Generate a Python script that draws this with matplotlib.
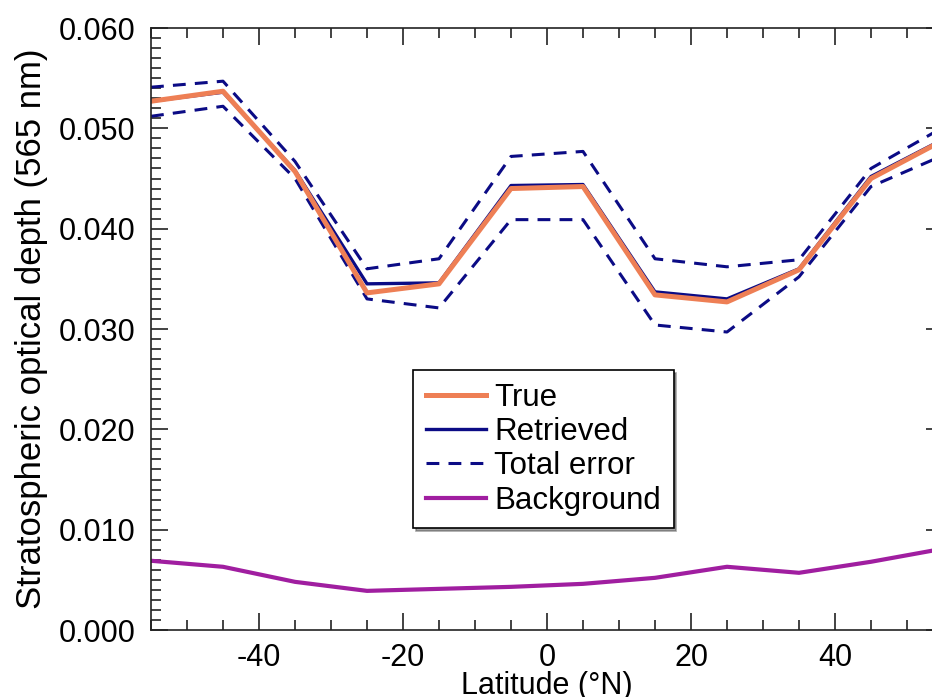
import matplotlib
matplotlib.use("Agg")
import matplotlib.pyplot as plt
from matplotlib.ticker import MultipleLocator, FormatStrFormatter

plt.rcParams['font.family'] = ['Liberation Sans', 'DejaVu Sans']
plt.rcParams['axes.unicode_minus'] = False

# Latitude bin centres (deg N)
latitude = [-55, -45, -35, -25, -15, -5, 5, 15, 25, 35, 45, 55]

# Stratospheric optical depth at 565 nm
true_od = [0.0527, 0.0537, 0.0457, 0.0336, 0.0345, 0.0440, 0.0442, 0.0334, 0.0327, 0.0359, 0.0450, 0.0488]
retrieved_od = [0.0527, 0.0536, 0.0458, 0.0345, 0.0346, 0.0443, 0.0444, 0.0337, 0.0330, 0.0360, 0.0452, 0.0489]
err_upper = [0.0541, 0.0547, 0.0467, 0.0360, 0.0370, 0.0472, 0.0477, 0.0370, 0.0362, 0.0369, 0.0460, 0.0501]
err_lower = [0.0512, 0.0522, 0.0450, 0.0330, 0.0321, 0.0409, 0.0409, 0.0304, 0.0297, 0.0352, 0.0442, 0.0473]
background_od = [0.0069, 0.0063, 0.0048, 0.0039, 0.0041, 0.0043, 0.0046, 0.0052, 0.0063, 0.0057, 0.0068, 0.0081]

c_true = '#EE7F55'
c_retr = '#0B0B85'
c_bg = '#A01EA0'

fig = plt.figure(figsize=(9.32, 6.97), dpi=100)
ax = fig.add_axes([151 / 932, 1 - 630 / 697, (943 - 151) / 932, (630 - 28) / 697])

dash = (0, (4.2, 3.0))
l_err, = ax.plot(latitude, err_upper, color=c_retr, lw=2.2, linestyle=dash, label='Total error')
ax.plot(latitude, err_lower, color=c_retr, lw=2.2, linestyle=dash)
l_retr, = ax.plot(latitude, retrieved_od, color=c_retr, lw=2.4, label='Retrieved')
l_true, = ax.plot(latitude, true_od, color=c_true, lw=3.6, label='True')
l_bg, = ax.plot(latitude, background_od, color=c_bg, lw=3.0, label='Background')

ax.set_xlim(-55, 55)
ax.set_ylim(0.0, 0.060)

ax.xaxis.set_major_locator(MultipleLocator(20))
ax.xaxis.set_minor_locator(MultipleLocator(5))
ax.yaxis.set_major_locator(MultipleLocator(0.010))
ax.yaxis.set_minor_locator(MultipleLocator(0.001))
ax.yaxis.set_major_formatter(FormatStrFormatter('%.3f'))

ax.tick_params(which='both', direction='in', top=True, right=True, width=1.2, color='#222222')
ax.tick_params(which='major', length=12)
ax.tick_params(which='minor', length=7)
ax.tick_params(axis='y', which='major', labelsize=22, pad=11)
ax.tick_params(axis='x', which='major', labelsize=22, pad=9)
for s in ax.spines.values():
    s.set_linewidth(1.2)
    s.set_color('#222222')

ax.set_xlabel('Latitude (°N)', fontsize=22, labelpad=-1)
ax.set_ylabel('Stratospheric optical depth (565 nm)', fontsize=25, labelpad=8)

leg = ax.legend(handles=[l_true, l_retr, l_err, l_bg], loc='upper left',
                bbox_to_anchor=((413 - 151) / 792, (630 - 370) / 602),
                fontsize=22.5, frameon=True, fancybox=False, shadow=True,
                handlelength=1.95, handletextpad=0.25, labelspacing=0.14,
                borderpad=0.4, borderaxespad=0.0)
leg.get_frame().set_edgecolor('black')
leg.get_frame().set_linewidth(1.2)

fig.savefig('out.png', dpi=100)
